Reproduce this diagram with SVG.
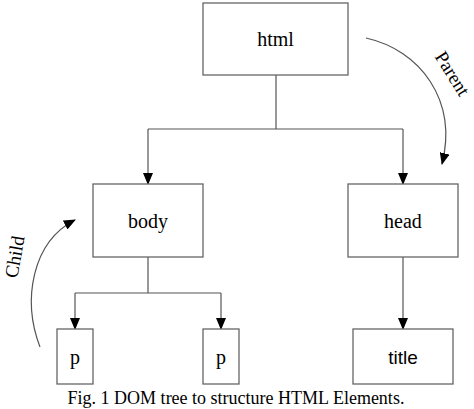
<svg xmlns="http://www.w3.org/2000/svg" width="474" height="409" viewBox="0 0 474 409">
<style>
.box{fill:#fff;stroke:#666;stroke-width:1.3}
.t{font-family:"Liberation Serif",serif;font-size:20px;fill:#000;text-anchor:middle}
.s{font-family:"Liberation Sans",sans-serif;font-size:19px;fill:#000;text-anchor:middle}
.c{fill:none;stroke:#555;stroke-width:1.2}
</style>
<defs>
<marker id="a" markerWidth="12" markerHeight="10" refX="11" refY="5" orient="auto" markerUnits="userSpaceOnUse">
<path d="M0,0 L12,5 L0,10 Z" fill="#000"/>
</marker>
</defs>
<rect width="474" height="409" fill="#fff"/>
<g id="connectors">
<path class="c" d="M276,75 V129 M148,129 H403"/>
<path class="c" d="M148,129 V184" marker-end="url(#a)"/>
<path class="c" d="M403,129 V184" marker-end="url(#a)"/>
<path class="c" d="M403,257 V329" marker-end="url(#a)"/>
<path class="c" d="M148,257 V293 M75,293 H221"/>
<path class="c" d="M75,293 V329" marker-end="url(#a)"/>
<path class="c" d="M221,293 V329" marker-end="url(#a)"/>
<path class="c" d="M366,38 C420,50 458,100 442,164" marker-end="url(#a)"/>
<path class="c" d="M40,347 C22,300 32,242 75,220" marker-end="url(#a)"/>
</g>
<g id="html"><rect class="box" x="203" y="3" width="145" height="72"/><text class="t" x="275.5" y="46">html</text></g>
<g id="body"><rect class="box" x="93" y="184" width="110" height="73"/><text class="t" x="148" y="228">body</text></g>
<g id="head"><rect class="box" x="348" y="184" width="110" height="73"/><text class="t" x="403" y="228">head</text></g>
<g id="p1"><rect class="box" x="57" y="329" width="36" height="55"/><text class="t" x="75" y="364">p</text></g>
<g id="p2"><rect class="box" x="203" y="329" width="36" height="55"/><text class="t" x="221" y="364">p</text></g>
<g id="title"><rect class="box" x="353" y="329" width="100" height="55"/><text class="s" x="403" y="364">title</text></g>
<text class="t" transform="translate(21,258) rotate(-80)" style="font-size:19px">Child</text>
<text class="t" transform="translate(447,77) rotate(58)" style="font-size:19px">Parent</text>
<text class="t" x="236" y="404" style="font-size:18px">Fig. 1 DOM tree to structure HTML Elements.</text>
</svg>
